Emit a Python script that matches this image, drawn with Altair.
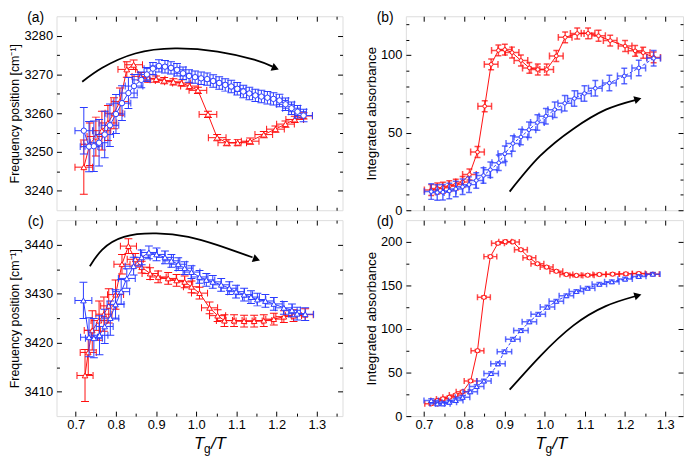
import altair as alt
import pandas as pd

FONT = "Liberation Sans"
RED = "#ff1010"
BLUE = "#2a3cff"

# ---------------- data: panel (a) ----------------
a_red_x = [0.720, 0.735, 0.750, 0.765, 0.780, 0.795, 0.810, 0.827, 0.844, 0.862, 0.880, 0.900, 0.920, 0.943,
           0.963, 0.983, 1.004, 1.029, 1.052, 1.076, 1.103, 1.134, 1.168, 1.197, 1.222, 1.245, 1.267]
a_red_y = [3246.1, 3252.0, 3254.0, 3255.5, 3257.5, 3260.0, 3263.0, 3271.3, 3272.5, 3269.5, 3269.0, 3268.8,
           3268.4, 3268.1, 3267.8, 3267.0, 3265.9, 3259.7, 3253.7, 3252.4, 3252.4, 3252.8, 3254.5, 3255.9,
           3257.2, 3258.4, 3259.3]
a_red_yerr = [7.0, 5.5, 5.0, 5.0, 4.5, 4.0, 3.5, 2.0, 1.2, 1.0, 1.0, 0.8, 0.8, 0.8, 0.8, 0.8, 0.8, 0.8,
              0.8, 0.8, 0.8, 0.8, 0.8, 0.8, 0.8, 0.8, 0.8]
a_red_xerr = 0.022
a_blue_x = [0.720, 0.733, 0.745, 0.758, 0.772, 0.785, 0.800, 0.815, 0.831, 0.845, 0.863, 0.877, 0.892, 0.907,
            0.922, 0.937, 0.952, 0.967, 0.982, 0.997, 1.012, 1.027, 1.042, 1.057, 1.072, 1.087, 1.102, 1.117,
            1.132, 1.147, 1.162, 1.177, 1.192, 1.207, 1.222, 1.237, 1.252, 1.267]
a_blue_y = [3255.5, 3251.4, 3251.5, 3252.4, 3254.5, 3256.9, 3259.8, 3262.6, 3265.2, 3267.0, 3268.6, 3270.0,
            3271.5, 3272.2, 3272.0, 3271.7, 3271.2, 3270.3, 3269.6, 3269.3, 3269.0, 3268.8, 3268.3, 3267.8,
            3267.3, 3266.9, 3266.3, 3265.6, 3265.1, 3264.6, 3264.3, 3264.0, 3263.7, 3263.3, 3262.3, 3261.3,
            3260.4, 3259.4]
a_blue_yerr = [6.0, 6.5, 6.5, 6.0, 6.0, 5.5, 5.0, 4.5, 4.0, 3.0, 2.0, 1.8, 1.6, 1.6, 1.6, 1.6, 1.6, 1.6,
               1.6, 1.6, 1.6, 1.6, 1.6, 1.6, 1.6, 1.6, 1.6, 1.6, 1.6, 1.6, 1.6, 1.6, 1.6, 1.6, 1.6, 1.6,
               1.6, 1.6]
a_blue_xerr = 0.022
a_arrow_x = [0.716, 0.766, 0.848, 0.947, 1.053, 1.144, 1.190]
a_arrow_y = [3268.1, 3271.7, 3275.4, 3276.7, 3275.9, 3273.8, 3272.0]
a_head = [1.197, 3271.6, 22]

# ---------------- data: panel (b) ----------------
b_red_x = [0.718, 0.733, 0.747, 0.763, 0.779, 0.796, 0.813, 0.833, 0.851, 0.867, 0.885, 0.901, 0.919, 0.941,
           0.962, 0.983, 1.005, 1.029, 1.051, 1.081, 1.108, 1.134, 1.163, 1.200, 1.225, 1.245, 1.271]
b_red_y = [13.0, 14.0, 14.5, 15.5, 16.5, 18.2, 23.0, 37.5, 67.0, 94.0, 103.0, 103.5, 101.6, 96.5, 91.7, 90.7,
           90.7, 99.4, 111.4, 113.9, 114.0, 112.4, 109.3, 105.8, 102.7, 101.5, 98.5]
b_red_yerr = 3.5
b_red_xerr = 0.017
b_blue_x = [0.718, 0.733, 0.747, 0.763, 0.779, 0.796, 0.812, 0.830, 0.848, 0.865, 0.886, 0.901, 0.921, 0.941,
            0.961, 0.982, 1.003, 1.025, 1.050, 1.074, 1.099, 1.126, 1.161, 1.198, 1.234, 1.271]
b_blue_y = [12.0, 11.4, 11.6, 12.4, 13.7, 15.1, 16.5, 19.2, 22.4, 26.1, 30.6, 36.4, 43.0, 47.2, 51.9, 56.5,
            60.6, 64.8, 68.9, 72.0, 75.2, 78.6, 82.0, 86.5, 91.7, 97.9]
b_blue_yerr = 5.0
b_blue_xerr = 0.017
b_arrow_x = [0.913, 0.988, 1.071, 1.152, 1.225]
b_arrow_y = [12.0, 34.8, 52.4, 64.8, 71.0]
b_head = [1.232, 71.6, 344]

# ---------------- data: panel (c) ----------------
c_red_x = [0.723, 0.731, 0.741, 0.758, 0.770, 0.782, 0.799, 0.815, 0.831, 0.848, 0.864, 0.885, 0.905, 0.930,
           0.951, 0.971, 0.988, 1.008, 1.033, 1.053, 1.070, 1.094, 1.119, 1.144, 1.168, 1.193, 1.218, 1.242,
           1.271]
c_red_y = [3413.3, 3418.0, 3422.5, 3424.5, 3425.8, 3427.5, 3429.8, 3436.0, 3439.7, 3437.0, 3435.4, 3434.1,
           3433.4, 3433.1, 3432.7, 3432.4, 3431.4, 3430.1, 3427.1, 3425.5, 3424.5, 3424.5, 3424.4, 3424.4,
           3424.5, 3424.8, 3425.3, 3425.5, 3425.7]
c_red_yerr = [5.3, 4.5, 4.0, 4.0, 3.5, 3.5, 3.0, 2.0, 1.5, 1.2, 1.2, 1.2, 1.2, 1.2, 1.2, 1.2, 1.2, 1.2, 1.2,
              1.2, 1.2, 1.2, 1.2, 1.2, 1.2, 1.2, 1.2, 1.2, 1.2]
c_red_xerr = 0.020
c_blue_x = [0.719, 0.733, 0.745, 0.759, 0.772, 0.786, 0.799, 0.813, 0.827, 0.844, 0.864, 0.882, 0.901, 0.922,
            0.938, 0.955, 0.971, 0.988, 1.008, 1.025, 1.041, 1.062, 1.082, 1.099, 1.119, 1.136, 1.152, 1.172,
            1.193, 1.218, 1.238, 1.251, 1.271]
c_blue_y = [3428.6, 3421.1, 3420.9, 3421.5, 3423.3, 3425.0, 3427.8, 3430.4, 3433.1, 3435.6, 3437.4, 3438.4,
            3438.0, 3437.4, 3436.7, 3436.0, 3435.2, 3434.4, 3433.4, 3432.8, 3432.4, 3431.8, 3431.1, 3430.4,
            3429.8, 3429.3, 3428.8, 3428.5, 3427.9, 3427.1, 3426.6, 3425.9, 3425.8]
c_blue_yerr = [3.7, 4.0, 4.0, 4.0, 3.5, 3.5, 3.0, 2.5, 2.0, 1.8, 1.5, 1.3, 1.3, 1.3, 1.3, 1.3, 1.3, 1.3, 1.3,
               1.3, 1.3, 1.3, 1.3, 1.3, 1.3, 1.3, 1.3, 1.3, 1.3, 1.3, 1.3, 1.3, 1.3]
c_blue_xerr = 0.021
c_arrow_x = [0.735, 0.766, 0.820, 0.900, 0.980, 1.053, 1.140]
c_arrow_y = [3435.6, 3439.0, 3441.6, 3442.3, 3441.6, 3439.9, 3437.4]
c_head = [1.150, 3437.0, 20]

# ---------------- data: panel (d) ----------------
d_red_x = [0.718, 0.733, 0.747, 0.763, 0.779, 0.796, 0.816, 0.833, 0.849, 0.865, 0.884, 0.902, 0.921, 0.941,
           0.962, 0.982, 1.005, 1.029, 1.054, 1.079, 1.107, 1.136, 1.169, 1.202, 1.234, 1.269]
d_red_y = [14.1, 17.9, 19.8, 21.6, 24.3, 28.0, 40.4, 75.1, 136.4, 183.1, 198.5, 200.3, 200.0, 191.0, 181.7,
           174.9, 171.1, 166.3, 162.6, 161.5, 161.8, 162.6, 163.0, 163.3, 163.7, 163.0]
d_red_yerr = 1.5
d_red_xerr = 0.016
d_blue_x = [0.718, 0.733, 0.747, 0.763, 0.779, 0.796, 0.815, 0.831, 0.849, 0.867, 0.884, 0.900, 0.921, 0.941,
            0.962, 0.984, 1.007, 1.029, 1.054, 1.079, 1.107, 1.136, 1.167, 1.200, 1.234, 1.269]
d_blue_y = [17.9, 14.1, 14.1, 16.0, 17.9, 21.6, 28.0, 34.0, 40.4, 48.9, 60.1, 74.0, 88.2, 98.2, 108.3, 117.0,
            125.2, 131.9, 138.3, 143.1, 146.9, 151.4, 154.3, 157.3, 160.4, 163.0]
d_blue_yerr = 2.0
d_blue_xerr = 0.018
d_arrow_x = [0.913, 0.988, 1.071, 1.152, 1.225]
d_arrow_y = [30.3, 68.4, 103.9, 126.3, 137.6]
d_head = [1.232, 138.6, 344]

# ---------------- axes ticks ----------------
x_major = [0.7, 0.8, 0.9, 1.0, 1.1, 1.2, 1.3]
x_minor_ac = [0.75, 0.85, 0.95, 1.05, 1.15, 1.25, 1.35]
x_minor_bd = [0.75, 0.85, 0.95, 1.05, 1.15, 1.25]
a_y_major = [3240, 3250, 3260, 3270, 3280]
a_y_minor = [3245, 3255, 3265, 3275]
b_y_major = [0, 50, 100]
b_y_minor = [10, 20, 30, 40, 60, 70, 80, 90, 110, 120]
c_y_major = [3410, 3420, 3430, 3440]
c_y_minor = [3415, 3425, 3435]
d_y_major = [0, 50, 100, 150, 200]
d_y_minor = [25, 75, 125, 175]

TITLE_FREQ = "Frequency position [cm\u207b\u00b9]"
TITLE_ABS = "Integrated absorbance"


def make_df(xs, ys, xerr, yerr):
    n = len(xs)
    xe = xerr if isinstance(xerr, list) else [xerr] * n
    ye = yerr if isinstance(yerr, list) else [yerr] * n
    return pd.DataFrame({
        "x": xs, "y": ys,
        "xlo": [v - e for v, e in zip(xs, xe)], "xhi": [v + e for v, e in zip(xs, xe)],
        "ylo": [v - e for v, e in zip(ys, ye)], "yhi": [v + e for v, e in zip(ys, ye)],
    })


COMMON = dict(domain=False, grid=False, tickColor="black", tickWidth=1, labelFont=FONT,
              labelFontSize=13, labelColor="black", titleFont=FONT, titleColor="black",
              titleFontWeight="normal", labelFlush=False)


def axis_layers(df, xs, ys, xmaj, xmin, ymaj, ymin, xlabels, ytitle, tsize):
    base = alt.Chart(df).mark_point(opacity=0)
    l1 = base.encode(
        x=alt.X("x:Q", scale=xs, axis=alt.Axis(orient="bottom", values=xmaj, tickSize=5, offset=-5,
                                               labels=xlabels, format=".1f", labelPadding=3, title=None, **COMMON)),
        y=alt.Y("y:Q", scale=ys, axis=alt.Axis(orient="left", values=ymaj, tickSize=5, offset=-5,
                                               format="d", labelPadding=4, title=ytitle, titlePadding=2,
                                               titleFontSize=tsize, **COMMON)))
    l2 = base.encode(
        x=alt.X("x:Q", scale=xs, axis=alt.Axis(orient="top", values=xmaj, tickSize=5, offset=-5,
                                               labels=False, title=None, **COMMON)),
        y=alt.Y("y:Q", scale=ys, axis=alt.Axis(orient="right", values=ymaj, tickSize=5, offset=-5,
                                               labels=False, title=None, **COMMON)))
    l3 = base.encode(
        x=alt.X("x:Q", scale=xs, axis=alt.Axis(orient="bottom", values=xmin, tickSize=3, offset=-3,
                                               labels=False, title=None, **COMMON)),
        y=alt.Y("y:Q", scale=ys, axis=alt.Axis(orient="left", values=ymin, tickSize=3, offset=-3,
                                               labels=False, title=None, **COMMON)))
    l4 = base.encode(
        x=alt.X("x:Q", scale=xs, axis=alt.Axis(orient="top", values=xmin, tickSize=3, offset=-3,
                                               labels=False, title=None, **COMMON)),
        y=alt.Y("y:Q", scale=ys, axis=alt.Axis(orient="right", values=ymin, tickSize=3, offset=-3,
                                               labels=False, title=None, **COMMON)))
    return [l1, l2, l3, l4]


def series_layers(df, xs, ys, color, shape, size, capx, capy, bw, bop, dash=None):
    base = alt.Chart(df)
    X = lambda f: alt.X(f, type="quantitative", scale=xs, axis=None)
    Y = lambda f: alt.Y(f, type="quantitative", scale=ys, axis=None)
    hbar = base.mark_rule(color=color, strokeWidth=bw, opacity=bop, clip=True).encode(
        x=X("xlo"), x2="xhi", y=Y("y"))
    vbar = base.mark_rule(color=color, strokeWidth=bw, opacity=bop, clip=True).encode(
        x=X("x"), y=Y("ylo"), y2="yhi")
    hcap = base.transform_fold(["xlo", "xhi"], as_=["k", "xc"]).mark_tick(
        orient="vertical", size=capx, thickness=bw, color=color, opacity=bop, clip=True).encode(
        x=X("xc"), y=Y("y"))
    vcap = base.transform_fold(["ylo", "yhi"], as_=["k", "yc"]).mark_tick(
        orient="horizontal", size=capy, thickness=bw, color=color, opacity=bop, clip=True).encode(
        x=X("x"), y=Y("yc"))
    lkw = dict(color=color, strokeWidth=1)
    if dash:
        lkw["strokeDash"] = dash
    line = base.mark_line(**lkw).encode(x=X("x"), y=Y("y"))
    pts = base.mark_point(shape=shape, size=size, filled=True, fill="white", stroke=color,
                          strokeWidth=1, opacity=1).encode(x=X("x"), y=Y("y"))
    return [hbar, vbar, hcap, vcap, line, pts]


def arrow_layers(axs, ays, head, xs, ys):
    df = pd.DataFrame({"x": axs, "y": ays, "i": list(range(len(axs)))})
    line = alt.Chart(df).mark_line(color="black", strokeWidth=1.8, interpolate="natural").encode(
        x=alt.X("x:Q", scale=xs, axis=None), y=alt.Y("y:Q", scale=ys, axis=None), order="i:Q")
    hdf = pd.DataFrame({"x": [head[0]], "y": [head[1]]})
    hd = alt.Chart(hdf).mark_point(shape="triangle-right", filled=True, color="black", size=70,
                                   angle=head[2], opacity=1).encode(
        x=alt.X("x:Q", scale=xs, axis=None), y=alt.Y("y:Q", scale=ys, axis=None))
    return [line, hd]


def text_layer(txt, x, y, size, italic=False, align="center", baseline="middle"):
    kw = dict(text=txt, font=FONT, fontSize=size, color="black", align=align, baseline=baseline)
    if italic:
        kw["fontStyle"] = "italic"
    return alt.Chart(pd.DataFrame({"t": [txt]})).mark_text(**kw).encode(
        x=alt.value(x), y=alt.value(y))


def panel(label, W, H, xdom, ydom, red, blue, red_style, blue_style, xmin, ymaj, ymin,
          xlabels, ytitle, tsize, arrow, xtitle_x=None):
    xs = alt.Scale(domain=xdom, nice=False, zero=False)
    ys = alt.Scale(domain=ydom, nice=False, zero=False)
    layers = axis_layers(red, xs, ys, x_major, xmin, ymaj, ymin, xlabels, ytitle, tsize)
    layers += series_layers(red, xs, ys, RED, **red_style)
    layers += series_layers(blue, xs, ys, BLUE, **blue_style)
    layers += arrow_layers(arrow[0], arrow[1], arrow[2], xs, ys)
    layers.append(text_layer(label, -21, 2, 14))
    if xtitle_x is not None:
        layers.append(text_layer("T", xtitle_x, H + 33, 17, italic=True, align="left", baseline="alphabetic"))
        layers.append(text_layer("g", xtitle_x + 10, H + 37, 12, align="left", baseline="alphabetic"))
        layers.append(text_layer("/T", xtitle_x + 17, H + 33, 17, italic=True, align="left", baseline="alphabetic"))
    return alt.layer(*layers).properties(width=W, height=H).resolve_axis(x="independent", y="independent")


style_a_red = dict(shape="triangle-up", size=34, capx=7, capy=8, bw=1, bop=1)
style_a_blue = dict(shape="circle", size=30, capx=7, capy=8, bw=1, bop=1)
style_b_red = dict(shape="circle", size=14, capx=7, capy=6, bw=1.5, bop=0.75)
style_b_blue = dict(shape="circle", size=14, capx=7, capy=6, bw=1.5, bop=0.75, dash=[3, 2])
style_c_red = dict(shape="triangle-up", size=32, capx=7, capy=8, bw=1, bop=1)
style_c_blue = dict(shape="triangle-up", size=32, capx=7, capy=8, bw=1, bop=1)
style_d_red = dict(shape="circle", size=18, capx=6, capy=6, bw=1.5, bop=0.75)
style_d_blue = dict(shape="triangle-up", size=22, capx=6, capy=6, bw=1.5, bop=0.75, dash=[3, 2])

pa = panel("(a)", 289, 196, [0.652, 1.364], [3235, 3285],
           make_df(a_red_x, a_red_y, a_red_xerr, a_red_yerr),
           make_df(a_blue_x, a_blue_y, a_blue_xerr, a_blue_yerr),
           style_a_red, style_a_blue, x_minor_ac, a_y_major, a_y_minor, False, TITLE_FREQ, 12.5,
           (a_arrow_x, a_arrow_y, a_head))
pb = panel("(b)", 280, 196, [0.655, 1.344], [0, 125],
           make_df(b_red_x, b_red_y, b_red_xerr, b_red_yerr),
           make_df(b_blue_x, b_blue_y, b_blue_xerr, b_blue_yerr),
           style_b_red, style_b_blue, x_minor_bd, b_y_major, b_y_minor, False, TITLE_ABS, 13.5,
           (b_arrow_x, b_arrow_y, b_head))
pc = panel("(c)", 289, 198, [0.652, 1.364], [3405, 3445],
           make_df(c_red_x, c_red_y, c_red_xerr, c_red_yerr),
           make_df(c_blue_x, c_blue_y, c_blue_xerr, c_blue_yerr),
           style_c_red, style_c_blue, x_minor_ac, c_y_major, c_y_minor, True, TITLE_FREQ, 12.5,
           (c_arrow_x, c_arrow_y, c_head), xtitle_x=139)
pd_ = panel("(d)", 280, 198, [0.655, 1.344], [0, 225],
            make_df(d_red_x, d_red_y, d_red_xerr, d_red_yerr),
            make_df(d_blue_x, d_blue_y, d_blue_xerr, d_blue_yerr),
            style_d_red, style_d_blue, x_minor_bd, d_y_major, d_y_minor, True, TITLE_ABS, 13.5,
            (d_arrow_x, d_arrow_y, d_head), xtitle_x=131)

chart = alt.concat(pa, pb, pc, pd_, columns=2, spacing={"row": 10, "column": 64}, bounds="flush").properties(
    padding=0
).configure_view(stroke="black", strokeWidth=1).configure(background="white")

chart.save("out.html", embed_options={"renderer": "svg", "actions": False})
